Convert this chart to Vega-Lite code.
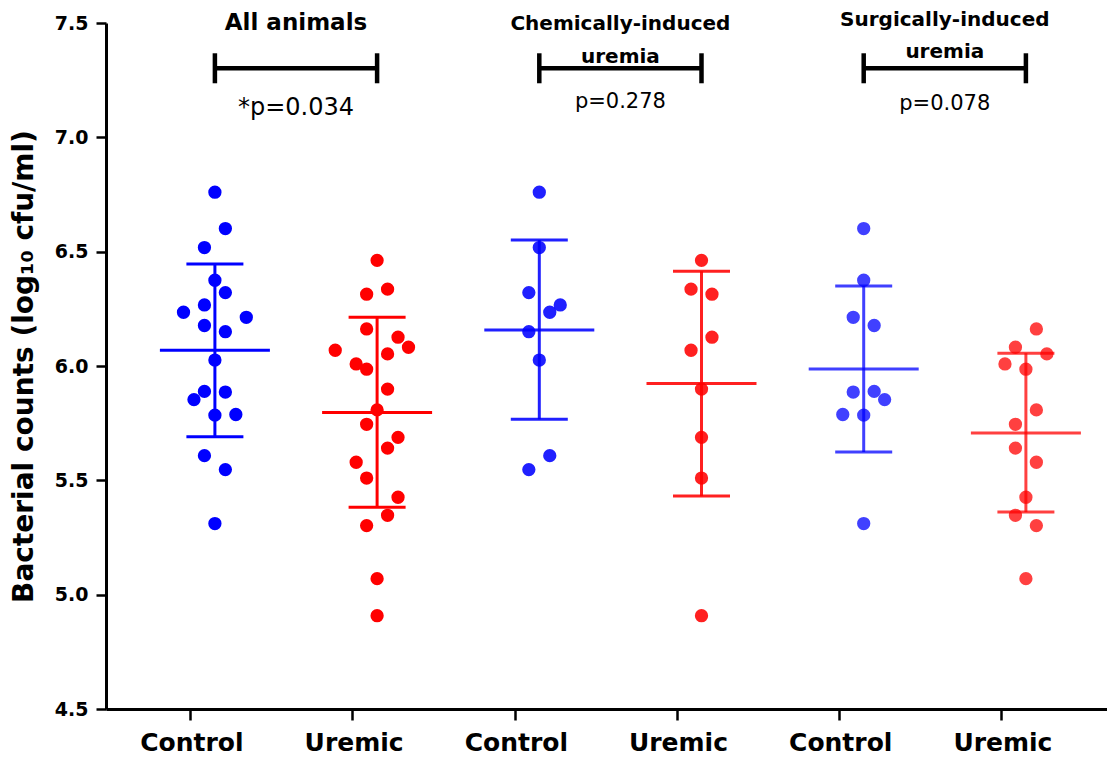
{
  "$schema": "https://vega.github.io/schema/vega-lite/v6.json",
  "width": 1001,
  "height": 686,
  "autosize": {"type": "none"},
  "padding": {"left": 106, "top": 23, "right": 0, "bottom": 50},
  "background": "white",
  "config": {
    "view": {"stroke": null},
    "font": "DejaVu Sans",
    "axis": {"grid": false, "domainColor": "black", "domainWidth": 3, "tickColor": "black", "tickWidth": 2.5, "labelColor": "black", "titleColor": "black"}
  },
  "datasets": {
    "points": [
      {"group": "C1", "treatment": "Control", "cohort": "All", "value": 6.760, "slot": 0},
      {"group": "C1", "treatment": "Control", "cohort": "All", "value": 6.601, "slot": 1},
      {"group": "C1", "treatment": "Control", "cohort": "All", "value": 6.518, "slot": -1},
      {"group": "C1", "treatment": "Control", "cohort": "All", "value": 6.375, "slot": 0},
      {"group": "C1", "treatment": "Control", "cohort": "All", "value": 6.321, "slot": 1},
      {"group": "C1", "treatment": "Control", "cohort": "All", "value": 6.267, "slot": -1},
      {"group": "C1", "treatment": "Control", "cohort": "All", "value": 6.235, "slot": -3},
      {"group": "C1", "treatment": "Control", "cohort": "All", "value": 6.213, "slot": 3},
      {"group": "C1", "treatment": "Control", "cohort": "All", "value": 6.177, "slot": -1},
      {"group": "C1", "treatment": "Control", "cohort": "All", "value": 6.150, "slot": 1},
      {"group": "C1", "treatment": "Control", "cohort": "All", "value": 6.026, "slot": 0},
      {"group": "C1", "treatment": "Control", "cohort": "All", "value": 5.889, "slot": -1},
      {"group": "C1", "treatment": "Control", "cohort": "All", "value": 5.886, "slot": 1},
      {"group": "C1", "treatment": "Control", "cohort": "All", "value": 5.853, "slot": -2},
      {"group": "C1", "treatment": "Control", "cohort": "All", "value": 5.785, "slot": 0},
      {"group": "C1", "treatment": "Control", "cohort": "All", "value": 5.788, "slot": 2},
      {"group": "C1", "treatment": "Control", "cohort": "All", "value": 5.608, "slot": -1},
      {"group": "C1", "treatment": "Control", "cohort": "All", "value": 5.547, "slot": 1},
      {"group": "C1", "treatment": "Control", "cohort": "All", "value": 5.311, "slot": 0},
      {"group": "U1", "treatment": "Uremic", "cohort": "All", "value": 6.462, "slot": 0},
      {"group": "U1", "treatment": "Uremic", "cohort": "All", "value": 6.336, "slot": 1},
      {"group": "U1", "treatment": "Uremic", "cohort": "All", "value": 6.314, "slot": -1},
      {"group": "U1", "treatment": "Uremic", "cohort": "All", "value": 6.162, "slot": -1},
      {"group": "U1", "treatment": "Uremic", "cohort": "All", "value": 6.126, "slot": 2},
      {"group": "U1", "treatment": "Uremic", "cohort": "All", "value": 6.082, "slot": 3},
      {"group": "U1", "treatment": "Uremic", "cohort": "All", "value": 6.069, "slot": -4},
      {"group": "U1", "treatment": "Uremic", "cohort": "All", "value": 6.053, "slot": 1},
      {"group": "U1", "treatment": "Uremic", "cohort": "All", "value": 6.009, "slot": -2},
      {"group": "U1", "treatment": "Uremic", "cohort": "All", "value": 5.986, "slot": -1},
      {"group": "U1", "treatment": "Uremic", "cohort": "All", "value": 5.899, "slot": 1},
      {"group": "U1", "treatment": "Uremic", "cohort": "All", "value": 5.808, "slot": 0},
      {"group": "U1", "treatment": "Uremic", "cohort": "All", "value": 5.745, "slot": -1},
      {"group": "U1", "treatment": "Uremic", "cohort": "All", "value": 5.688, "slot": 2},
      {"group": "U1", "treatment": "Uremic", "cohort": "All", "value": 5.641, "slot": 1},
      {"group": "U1", "treatment": "Uremic", "cohort": "All", "value": 5.579, "slot": -2},
      {"group": "U1", "treatment": "Uremic", "cohort": "All", "value": 5.510, "slot": -1},
      {"group": "U1", "treatment": "Uremic", "cohort": "All", "value": 5.426, "slot": 2},
      {"group": "U1", "treatment": "Uremic", "cohort": "All", "value": 5.347, "slot": 1},
      {"group": "U1", "treatment": "Uremic", "cohort": "All", "value": 5.302, "slot": -1},
      {"group": "U1", "treatment": "Uremic", "cohort": "All", "value": 5.070, "slot": 0},
      {"group": "U1", "treatment": "Uremic", "cohort": "All", "value": 4.908, "slot": 0},
      {"group": "C2", "treatment": "Control", "cohort": "Chemical", "value": 6.760, "slot": 0},
      {"group": "C2", "treatment": "Control", "cohort": "Chemical", "value": 6.518, "slot": 0},
      {"group": "C2", "treatment": "Control", "cohort": "Chemical", "value": 6.321, "slot": -1},
      {"group": "C2", "treatment": "Control", "cohort": "Chemical", "value": 6.267, "slot": 2},
      {"group": "C2", "treatment": "Control", "cohort": "Chemical", "value": 6.235, "slot": 1},
      {"group": "C2", "treatment": "Control", "cohort": "Chemical", "value": 6.150, "slot": -1},
      {"group": "C2", "treatment": "Control", "cohort": "Chemical", "value": 6.026, "slot": 0},
      {"group": "C2", "treatment": "Control", "cohort": "Chemical", "value": 5.608, "slot": 1},
      {"group": "C2", "treatment": "Control", "cohort": "Chemical", "value": 5.547, "slot": -1},
      {"group": "U2", "treatment": "Uremic", "cohort": "Chemical", "value": 6.462, "slot": 0},
      {"group": "U2", "treatment": "Uremic", "cohort": "Chemical", "value": 6.336, "slot": -1},
      {"group": "U2", "treatment": "Uremic", "cohort": "Chemical", "value": 6.314, "slot": 1},
      {"group": "U2", "treatment": "Uremic", "cohort": "Chemical", "value": 6.126, "slot": 1},
      {"group": "U2", "treatment": "Uremic", "cohort": "Chemical", "value": 6.069, "slot": -1},
      {"group": "U2", "treatment": "Uremic", "cohort": "Chemical", "value": 5.899, "slot": 0},
      {"group": "U2", "treatment": "Uremic", "cohort": "Chemical", "value": 5.688, "slot": 0},
      {"group": "U2", "treatment": "Uremic", "cohort": "Chemical", "value": 5.510, "slot": 0},
      {"group": "U2", "treatment": "Uremic", "cohort": "Chemical", "value": 4.908, "slot": 0},
      {"group": "C3", "treatment": "Control", "cohort": "Surgical", "value": 6.601, "slot": 0},
      {"group": "C3", "treatment": "Control", "cohort": "Surgical", "value": 6.375, "slot": 0},
      {"group": "C3", "treatment": "Control", "cohort": "Surgical", "value": 6.213, "slot": -1},
      {"group": "C3", "treatment": "Control", "cohort": "Surgical", "value": 6.177, "slot": 1},
      {"group": "C3", "treatment": "Control", "cohort": "Surgical", "value": 5.886, "slot": -1},
      {"group": "C3", "treatment": "Control", "cohort": "Surgical", "value": 5.889, "slot": 1},
      {"group": "C3", "treatment": "Control", "cohort": "Surgical", "value": 5.853, "slot": 2},
      {"group": "C3", "treatment": "Control", "cohort": "Surgical", "value": 5.788, "slot": -2},
      {"group": "C3", "treatment": "Control", "cohort": "Surgical", "value": 5.785, "slot": 0},
      {"group": "C3", "treatment": "Control", "cohort": "Surgical", "value": 5.311, "slot": 0},
      {"group": "U3", "treatment": "Uremic", "cohort": "Surgical", "value": 6.162, "slot": 1},
      {"group": "U3", "treatment": "Uremic", "cohort": "Surgical", "value": 6.082, "slot": -1},
      {"group": "U3", "treatment": "Uremic", "cohort": "Surgical", "value": 6.053, "slot": 2},
      {"group": "U3", "treatment": "Uremic", "cohort": "Surgical", "value": 6.009, "slot": -2},
      {"group": "U3", "treatment": "Uremic", "cohort": "Surgical", "value": 5.986, "slot": 0},
      {"group": "U3", "treatment": "Uremic", "cohort": "Surgical", "value": 5.808, "slot": 1},
      {"group": "U3", "treatment": "Uremic", "cohort": "Surgical", "value": 5.745, "slot": -1},
      {"group": "U3", "treatment": "Uremic", "cohort": "Surgical", "value": 5.641, "slot": -1},
      {"group": "U3", "treatment": "Uremic", "cohort": "Surgical", "value": 5.579, "slot": 1},
      {"group": "U3", "treatment": "Uremic", "cohort": "Surgical", "value": 5.426, "slot": 0},
      {"group": "U3", "treatment": "Uremic", "cohort": "Surgical", "value": 5.347, "slot": -1},
      {"group": "U3", "treatment": "Uremic", "cohort": "Surgical", "value": 5.302, "slot": 1},
      {"group": "U3", "treatment": "Uremic", "cohort": "Surgical", "value": 5.070, "slot": 0}
    ],
    "summary": [
      {"group": "C1", "treatment": "Control", "cohort": "All", "mean": 6.069, "lo": 5.691, "hi": 6.446},
      {"group": "U1", "treatment": "Uremic", "cohort": "All", "mean": 5.797, "lo": 5.382, "hi": 6.213},
      {"group": "C2", "treatment": "Control", "cohort": "Chemical", "mean": 6.157, "lo": 5.767, "hi": 6.551},
      {"group": "U2", "treatment": "Uremic", "cohort": "Chemical", "mean": 5.923, "lo": 5.431, "hi": 6.414},
      {"group": "C3", "treatment": "Control", "cohort": "Surgical", "mean": 5.987, "lo": 5.624, "hi": 6.350},
      {"group": "U3", "treatment": "Uremic", "cohort": "Surgical", "mean": 5.707, "lo": 5.361, "hi": 6.056}
    ],
    "brackets": [
      {"from": "C1", "to": "U1", "y": 7.302},
      {"from": "C2", "to": "U2", "y": 7.302},
      {"from": "C3", "to": "U3", "y": 7.302}
    ],
    "caps": [
      {"group": "C1", "y": 7.302}, {"group": "U1", "y": 7.302},
      {"group": "C2", "y": 7.302}, {"group": "U2", "y": 7.302},
      {"group": "C3", "y": 7.302}, {"group": "U3", "y": 7.302}
    ]
  },
  "encoding": {
    "x": {
      "field": "group", "type": "nominal",
      "scale": {"domain": ["C1", "U1", "C2", "U2", "C3", "U3"], "paddingInner": 0, "paddingOuter": 0.0857, "align": 1},
      "axis": {
        "title": null, "labelAngle": 0, "bandPosition": 0.351, "labelOffset": -23,
        "labelExpr": "substring(datum.value, 0, 1) == 'C' ? 'Control' : 'Uremic'",
        "labelFont": "DejaVu Sans", "labelFontSize": 25, "labelFontWeight": "bold",
        "tickSize": 11, "labelPadding": 10
      }
    }
  },
  "layer": [
    {
      "data": {"name": "points"},
      "mark": {"type": "circle", "size": 177},
      "encoding": {
        "xOffset": {"field": "slot", "type": "quantitative", "scale": {"domain": [-3, 3], "range": [49.7, 112.5]}},
        "y": {
          "field": "value", "type": "quantitative",
          "scale": {"domain": [4.5, 7.5], "nice": false, "zero": false},
          "axis": {
            "values": [4.5, 5, 5.5, 6, 6.5, 7, 7.5], "format": ".1f",
            "title": "Bacterial counts (log₁₀ cfu/ml)",
            "titleFont": "DejaVu Sans", "titleFontSize": 28, "titleFontWeight": "bold", "titlePadding": 16,
            "labelFont": "DejaVu Sans", "labelFontSize": 19, "labelFontWeight": "bold",
            "tickSize": 10, "labelPadding": 8
          }
        },
        "color": {"field": "treatment", "type": "nominal", "scale": {"domain": ["Control", "Uremic"], "range": ["#0000ff", "#ff0000"]}, "legend": null},
        "opacity": {"field": "cohort", "type": "nominal", "scale": {"domain": ["All", "Chemical", "Surgical"], "range": [1, 0.75, 0.75]}, "legend": null}
      }
    },
    {
      "data": {"name": "summary"},
      "mark": {"type": "rule", "strokeWidth": 3},
      "encoding": {
        "y": {"field": "lo", "type": "quantitative"},
        "y2": {"field": "hi"},
        "color": {"field": "treatment", "type": "nominal"},
        "opacity": {"field": "cohort", "type": "nominal"}
      }
    },
    {
      "data": {"name": "summary"},
      "mark": {"type": "tick", "size": 110, "thickness": 3},
      "encoding": {
        "y": {"field": "mean", "type": "quantitative"},
        "color": {"field": "treatment", "type": "nominal"},
        "opacity": {"field": "cohort", "type": "nominal"}
      }
    },
    {
      "data": {"name": "summary"},
      "mark": {"type": "tick", "size": 57, "thickness": 3},
      "encoding": {
        "y": {"field": "lo", "type": "quantitative"},
        "color": {"field": "treatment", "type": "nominal"},
        "opacity": {"field": "cohort", "type": "nominal"}
      }
    },
    {
      "data": {"name": "summary"},
      "mark": {"type": "tick", "size": 57, "thickness": 3},
      "encoding": {
        "y": {"field": "hi", "type": "quantitative"},
        "color": {"field": "treatment", "type": "nominal"},
        "opacity": {"field": "cohort", "type": "nominal"}
      }
    },
    {
      "data": {"name": "brackets"},
      "mark": {"type": "rule", "strokeWidth": 4.5, "color": "black"},
      "encoding": {
        "x": {"field": "from", "type": "nominal"},
        "x2": {"field": "to"},
        "y": {"field": "y", "type": "quantitative"}
      }
    },
    {
      "data": {"name": "caps"},
      "mark": {"type": "tick", "orient": "vertical", "size": 30, "thickness": 4.5, "color": "black", "opacity": 1},
      "encoding": {
        "y": {"field": "y", "type": "quantitative"}
      }
    },
    {
      "data": {"values": [{"group": "C1", "y": 7.5, "text": "All animals"}]},
      "mark": {"type": "text", "font": "DejaVu Sans", "fontSize": 23, "fontWeight": "bold", "color": "black", "baseline": "middle", "align": "center"},
      "encoding": {
        "x": {"field": "group", "type": "nominal", "bandPosition": 1},
        "y": {"field": "y", "type": "quantitative"},
        "text": {"field": "text"}
      }
    },
    {
      "data": {"values": [
        {"group": "C2", "y": 7.496, "text": "Chemically-induced"},
        {"group": "C2", "y": 7.35, "text": "uremia"},
        {"group": "C3", "y": 7.512, "text": "Surgically-induced"},
        {"group": "C3", "y": 7.372, "text": "uremia"}
      ]},
      "mark": {"type": "text", "font": "DejaVu Sans", "fontSize": 20, "fontWeight": "bold", "color": "black", "baseline": "middle", "align": "center"},
      "encoding": {
        "x": {"field": "group", "type": "nominal", "bandPosition": 1},
        "y": {"field": "y", "type": "quantitative"},
        "text": {"field": "text"}
      }
    },
    {
      "data": {"values": [{"group": "C1", "y": 7.13, "text": "*p=0.034"}]},
      "mark": {"type": "text", "font": "DejaVu Sans", "fontSize": 24, "color": "black", "baseline": "middle", "align": "center"},
      "encoding": {
        "x": {"field": "group", "type": "nominal", "bandPosition": 1},
        "y": {"field": "y", "type": "quantitative"},
        "text": {"field": "text"}
      }
    },
    {
      "data": {"values": [
        {"group": "C2", "y": 7.155, "text": "p=0.278"},
        {"group": "C3", "y": 7.147, "text": "p=0.078"}
      ]},
      "mark": {"type": "text", "font": "DejaVu Sans", "fontSize": 21, "color": "black", "baseline": "middle", "align": "center"},
      "encoding": {
        "x": {"field": "group", "type": "nominal", "bandPosition": 1},
        "y": {"field": "y", "type": "quantitative"},
        "text": {"field": "text"}
      }
    }
  ]
}
